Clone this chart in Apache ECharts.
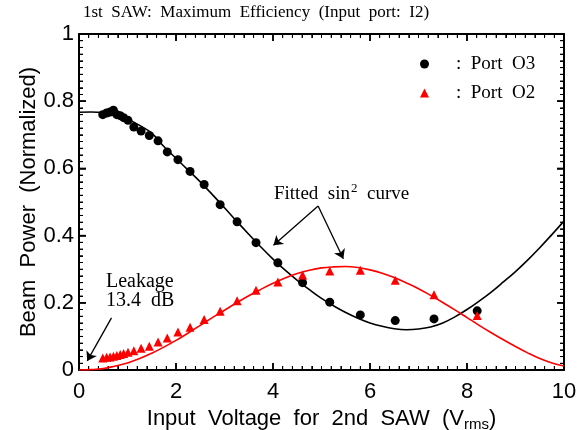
<!DOCTYPE html>
<html>
<head>
<meta charset="utf-8">
<script src="https://cdn.jsdelivr.net/npm/echarts@6.0.0/dist/echarts.min.js"></script>
<style>
  html, body { margin: 0; padding: 0; background: #fff; }
  #chart { width: 584px; height: 430px; }
</style>
</head>
<body>
<div id="chart"></div>
<script>
// == Data ====================================================================

// measured input voltages (Vrms), shared by both output ports
const voltage = [0.49, 0.57, 0.64, 0.71, 0.78, 0.85, 0.92, 1.01, 1.13, 1.28, 1.45, 1.63, 1.82,
  2.04, 2.29, 2.58, 2.91, 3.26, 3.65, 4.10, 4.61, 5.17, 5.80, 6.52, 7.32, 8.21]
const portO3 = [0.760, 0.765, 0.768, 0.773, 0.760, 0.757, 0.751, 0.743, 0.723, 0.711, 0.698, 0.682, 0.649,
  0.626, 0.591, 0.552, 0.492, 0.441, 0.379, 0.319, 0.260, 0.202, 0.164, 0.147, 0.152, 0.176]
const portO2 = [0.036, 0.038, 0.039, 0.041, 0.043, 0.046, 0.049, 0.053, 0.057, 0.065, 0.071, 0.083, 0.095,
  0.113, 0.127, 0.150, 0.175, 0.206, 0.237, 0.262, 0.283, 0.295, 0.297, 0.267, 0.224, 0.162]

// fitted sin^2 curves, every 0.25 V
const fitX = [0, 0.25, 0.5, 0.75, 1, 1.25, 1.5, 1.75, 2, 2.25, 2.5, 2.75, 3, 3.25, 3.5, 3.75, 4, 4.25, 4.5, 4.75,
  5, 5.25, 5.5, 5.75, 6, 6.25, 6.5, 6.75, 7, 7.25, 7.5, 7.75, 8, 8.25, 8.5, 8.75, 9, 9.25, 9.5, 9.75, 10]
const fitO3 = [0.767, 0.768, 0.766, 0.759, 0.746, 0.728, 0.705, 0.665, 0.630, 0.595, 0.560, 0.522, 0.483, 0.443,
  0.404, 0.366, 0.330, 0.297, 0.267, 0.239, 0.213, 0.191, 0.171, 0.154, 0.140, 0.130, 0.123, 0.120, 0.122,
  0.128, 0.140, 0.158, 0.180, 0.205, 0.232, 0.262, 0.293, 0.327, 0.364, 0.403, 0.443]
const fitO2 = [0.000, 0.001, 0.004, 0.012, 0.021, 0.034, 0.050, 0.068, 0.088, 0.110, 0.133, 0.156, 0.178, 0.200,
  0.221, 0.240, 0.258, 0.274, 0.287, 0.297, 0.304, 0.307, 0.308, 0.305, 0.298, 0.288, 0.275, 0.259, 0.242,
  0.222, 0.201, 0.179, 0.156, 0.133, 0.111, 0.090, 0.070, 0.051, 0.034, 0.021, 0.012]

const xTicks = [0, 2, 4, 6, 8, 10]

// == Helpers =================================================================

const SANS = '"Liberation Sans", Arial, sans-serif'
const SERIF = '"Liberation Serif", "Times New Roman", serif'

const zip = (xs, ys) => xs.map((x, i) => [x, ys[i]])

// inward frame ticks on all four sides: minor every 0.2 / 0.02, major every 2 / 0.2
const frameTicks = []
for (let i = 0; i <= 50; i++) {
  const major = i % 10 === 0
  const len = major ? 7 : 4
  const w = major ? 1.5 : 1
  const x = +(i * 0.2).toFixed(1)
  const y = +(i * 0.02).toFixed(2)
  frameTicks.push({value: [x, 0], symbolSize: [w, len], symbolOffset: [0, -len / 2]})
  frameTicks.push({value: [x, 1], symbolSize: [w, len], symbolOffset: [0, len / 2]})
  frameTicks.push({value: [0, y], symbolSize: [len, w], symbolOffset: [len / 2, 0]})
  frameTicks.push({value: [10, y], symbolSize: [len, w], symbolOffset: [-len / 2, 0]})
}

function axis (opts) {
  return Object.assign({
    type: 'value',
    splitLine: {show: false},
    nameMoveOverlap: false,
    axisLine: {show: true, onZero: false, lineStyle: {color: '#000', width: 2}},
    axisTick: {show: true, inside: true, length: 7, lineStyle: {color: '#000', width: 1.5}},
    minorTick: {show: true, splitNumber: 10, length: 4, lineStyle: {color: '#000', width: 1}}
  }, opts)
}

function arrow (from, to) {
  return [{coord: from, symbol: 'none'}, {coord: to, symbol: 'arrow'}]
}

// == Chart ===================================================================

const chart = echarts.init(document.getElementById('chart'))

chart.setOption({
  animation: false,
  backgroundColor: '#fff',
  title: {
    text: '1st  SAW:  Maximum  Efficiency  (Input  port:  I2)',
    left: 83,
    top: 4,
    padding: 0,
    textStyle: {fontFamily: SERIF, fontSize: 17, fontWeight: 'normal', color: '#000'}
  },
  grid: {left: 79, right: 20, top: 34, bottom: 60, containLabel: false, outerBoundsMode: 'none'},
  legend: {
    orient: 'vertical',
    left: 415,
    top: 49,
    itemWidth: 9,
    itemHeight: 9,
    itemGap: 9,
    data: [
      {name: 'Port O3', icon: 'circle', itemStyle: {opacity: 1}},
      {name: 'Port O2', icon: 'triangle', itemStyle: {opacity: 1}}
    ],
    formatter: name => ':  ' + name.replace(' ', '  '),
    textStyle: {fontFamily: SERIF, fontSize: 19, color: '#000', padding: [0, 0, 0, 22], lineHeight: 20}
  },
  xAxis: [
    axis({
      position: 'bottom', min: 0, max: 10, interval: 2,
      axisLabel: {
        color: '#000', fontFamily: SANS, fontSize: 22, margin: 11,
        formatter: v => xTicks.includes(v) ? String(v) : ''
      },
      name: '{a|Input  Voltage  for  2nd  SAW  (V}{s|rms}{a|)}',
      nameLocation: 'middle',
      nameGap: 36,
      nameTextStyle: {
        rich: {
          a: {fontFamily: SANS, fontSize: 22, color: '#000'},
          s: {fontFamily: SANS, fontSize: 15, color: '#000', verticalAlign: 'bottom', padding: [11, 0, 0, 0]}
        }
      }
    }),
    axis({position: 'top', min: 0, max: 10, interval: 2, axisLabel: {show: false}})
  ],
  yAxis: [
    axis({
      position: 'left', min: 0, max: 1, interval: 0.2,
      axisLabel: {
        color: '#000', fontFamily: SANS, fontSize: 22, margin: 5,
        formatter: v => String(+v.toFixed(1))
      },
      name: 'Beam  Power  (Normalized)',
      nameLocation: 'middle',
      nameGap: 39,
      nameTextStyle: {fontFamily: SANS, fontSize: 22, color: '#000'}
    }),
    axis({position: 'right', min: 0, max: 1, interval: 0.2, axisLabel: {show: false}})
  ],
  series: [
    {
      name: 'frame ticks',
      type: 'scatter',
      data: frameTicks,
      symbol: 'rect',
      itemStyle: {color: '#000', opacity: 1},
      clip: false,
      silent: true,
      z: 1
    },
    {
      name: 'fit O3',
      type: 'line',
      data: zip(fitX, fitO3),
      smooth: 0.4,
      symbol: 'none',
      lineStyle: {color: '#000', width: 1.6},
      z: 2,
      markLine: {
        silent: true,
        symbolSize: 9,
        label: {show: false},
        lineStyle: {color: '#000', width: 1.3, type: 'solid'},
        data: [
          arrow([4.93, 0.488], [4.01, 0.371]),
          arrow([4.93, 0.488], [5.45, 0.331]),
          arrow([0.67, 0.155], [0.17, 0.027])
        ]
      }
    },
    {
      name: 'fit O2',
      type: 'line',
      data: zip(fitX, fitO2),
      smooth: 0.4,
      symbol: 'none',
      lineStyle: {color: '#ff0000', width: 1.6},
      z: 2
    },
    {
      name: 'Port O3',
      type: 'scatter',
      data: zip(voltage, portO3),
      symbol: 'circle',
      symbolSize: 9,
      itemStyle: {color: '#000', opacity: 1},
      z: 3
    },
    {
      name: 'Port O2',
      type: 'scatter',
      data: zip(voltage, portO2),
      symbol: 'triangle',
      symbolSize: 9,
      itemStyle: {color: '#ff0000', opacity: 1},
      z: 3
    }
  ],
  graphic: [
    {
      type: 'text',
      left: 274,
      top: 182,
      style: {
        text: '{a|Fitted  sin}{p|2}{a|  curve}',
        rich: {
          a: {fontFamily: SERIF, fontSize: 19, fill: '#000', color: '#000'},
          p: {fontFamily: SERIF, fontSize: 13, fill: '#000', color: '#000', verticalAlign: 'top', padding: [0, 0, 11, 1]}
        }
      }
    },
    {
      type: 'text',
      left: 106,
      top: 272,
      style: {text: 'Leakage', font: '20px ' + SERIF, fill: '#000'}
    },
    {
      type: 'text',
      left: 106,
      top: 291,
      style: {text: '13.4  dB', font: '20px ' + SERIF, fill: '#000'}
    }
  ]
})
</script>
</body>
</html>
